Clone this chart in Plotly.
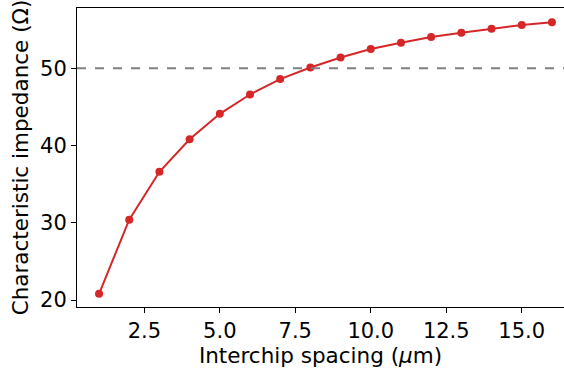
import plotly.graph_objects as go

spacing = list(range(1, 17))
impedance = [20.8, 30.4, 36.6, 40.8, 44.1, 46.6, 48.6, 50.1, 51.4, 52.5, 53.3, 54.05, 54.6, 55.1, 55.6, 55.95]
target = 50
xticks = [2.5, 5.0, 7.5, 10.0, 12.5, 15.0]
yticks = [20, 30, 40, 50]

fig = go.Figure()
fig.add_trace(go.Scatter(x=spacing, y=impedance, mode="lines+markers",
                         line=dict(color="#d62728", width=2),
                         marker=dict(color="#d62728", size=8)))
fig.add_hline(y=target, line=dict(color="#808080", width=2, dash="dash"))

font = dict(family="DejaVu Sans", size=21, color="black")
fig.update_layout(
    width=564, height=370,
    margin=dict(l=77, r=0, t=8, b=63),
    plot_bgcolor="white", paper_bgcolor="white",
    showlegend=False, font=font,
    xaxis=dict(range=[0.27, 16.4], tickvals=xticks, ticktext=[f"{v:.1f}" for v in xticks],
               showgrid=False, zeroline=False, showline=True, linecolor="black", linewidth=1,
               mirror=True, ticks="outside", ticklen=5, tickcolor="black",
               tickfont=dict(size=21),
               title=dict(text="Interchip spacing (<i>μ</i>m)", standoff=3, font=dict(size=21.5))),
    yaxis=dict(range=[19.1, 57.8], tickvals=yticks,
               showgrid=False, zeroline=False, showline=True, linecolor="black", linewidth=1,
               ticks="outside", ticklen=5, tickcolor="black",
               tickfont=dict(size=21),
               title=dict(text="Characteristic impedance (Ω)", standoff=5, font=dict(size=21.5))),
)
fig.write_html("out.html")
